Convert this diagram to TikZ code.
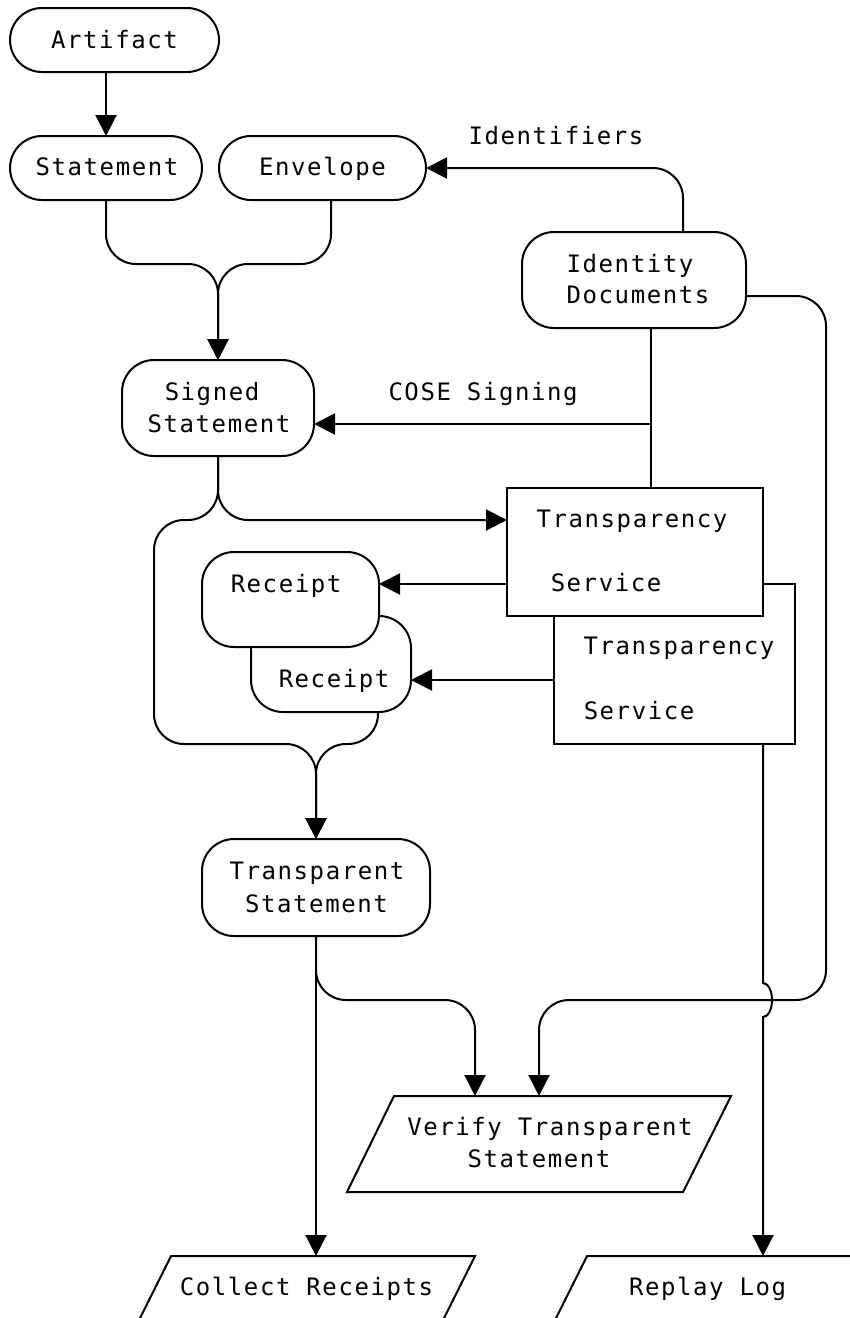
\documentclass[tikz,border=0pt]{standalone}
\usepackage{fontspec}
\newfontfamily\dmono{DejaVu Sans Mono}[LetterSpace=6.5]
\usetikzlibrary{arrows.meta,calc}
\begin{document}
\begin{tikzpicture}[x=1pt,y=-1pt,
  shp/.style={draw,line width=2pt,fill=white,inner sep=0pt,outer sep=0pt},
  rbox/.style={shp,rectangle,rounded corners=32pt},
  sbox/.style={shp,rectangle},
  pbox/.style={rectangle,inner sep=0pt,outer sep=0pt,minimum height=96pt},
  pline/.style={draw,line width=2pt,fill=white,line join=miter},
  txt/.style={inner sep=0pt,anchor=base,font=\dmono\fontsize{24}{28}\selectfont},
  con/.style={line width=2pt,rounded corners=30pt},
  arr/.style={con,-{Triangle[length=21pt,width=21pt]}}
]
\clip (0,0) rectangle (850,1318);
% shapes
\node[rbox,minimum width=209pt,minimum height=64pt] (Art) at (114.5,40) {};
\node[rbox,minimum width=192pt,minimum height=64pt] (Stm) at (106,168) {};
\node[rbox,minimum width=207pt,minimum height=64pt] (Env) at (322.5,168) {};
\node[rbox,minimum width=224pt,minimum height=96pt] (Id) at (634,280) {};
\node[rbox,minimum width=192pt,minimum height=96pt] (Sgn) at (218,408) {};
\node[sbox,minimum width=241pt,minimum height=160pt] (Ts2) at (674.5,664) {};
\node[sbox,minimum width=256pt,minimum height=128pt] (Ts1) at (635,552) {};
\node[rbox,minimum width=160pt,minimum height=96pt] (Rc2) at (331,664) {};
\node[rbox,minimum width=177pt,minimum height=95pt] (Rc1) at (290.5,599.5) {};
\node[rbox,minimum width=228pt,minimum height=97pt] (Tst) at (316,887.5) {};
\node[pbox,minimum width=384pt] (Ver) at (539,1144) {};
\node[pbox,minimum width=352pt] (Col) at (299,1304) {};
\node[pbox,minimum width=352pt] (Rep) at (715,1304) {};
\path[pline] ($(Ver.north west)+(47,0)$) -- (Ver.north east) -- ($(Ver.south east)+(-48,0)$) -- (Ver.south west) -- cycle;
\path[pline] ($(Col.north west)+(48,0)$) -- (Col.north east) -- ($(Col.south east)+(-48,0)$) -- (Col.south west) -- cycle;
\path[pline] ($(Rep.north west)+(48,0)$) -- (Rep.north east) -- ($(Rep.south east)+(-48,0)$) -- (Rep.south west) -- cycle;
% texts
\node[txt] (tArt) at (114.5,48) {Artifact};
\node[txt] (tStm) at (107,175) {Statement};
\node[txt] (tEnv) at (322.5,175) {Envelope};
\node[txt] (tId1) at (630,272) {Identity};
\node[txt] (tId2) at (638,303) {Documents};
\node[txt] (tSgn1) at (212,400) {Signed};
\node[txt] (tSgn2) at (219,432) {Statement};
\node[txt] (tTs1a) at (632,527) {Transparency};
\node[txt] (tTs1b) at (606,591) {Service};
\node[txt] (tTs2a) at (679,654) {Transparency};
\node[txt] (tTs2b) at (639,719) {Service};
\node[txt] (tRc1) at (286,592) {Receipt};
\node[txt] (tRc2) at (334,687) {Receipt};
\node[txt] (tTst1) at (317,879) {Transparent};
\node[txt] (tTst2) at (316.5,912) {Statement};
\node[txt] (tVer1) at (550,1135) {Verify Transparent};
\node[txt] (tVer2) at (539,1167) {Statement};
\node[txt] (tCol) at (306.5,1295) {Collect Receipts};
\node[txt] (tRep) at (707.5,1295) {Replay Log};
\node[txt] (lIdf) at (556,144) {Identifiers};
\node[txt] (lCose) at (483,400) {COSE Signing};
% coordinates
\coordinate (j1) at (218,264);
\coordinate (cose) at (651,424);
\coordinate (c1) at (154,520);
\coordinate (c2) at (154,744);
\coordinate (j2) at (316,744);
\coordinate (c3) at (475,1000);
\coordinate (c4) at (826,1000);
\coordinate (c5) at (539,1000);
\coordinate (t1r) at ($(Ts1.west)+(0,32)$);
\coordinate (t2r) at ($(Ts2.west)+(0,16)$);
\coordinate (rl) at ($(Ts2.south)+(88.5,0)$);
\coordinate (jt) at (763,983);
% connectors
\draw[arr] (Art.south -| Stm.north) -- (Stm.north);
\draw[arr] (Stm.south) |- (j1) -- (Sgn.north);
\draw[arr] ($(Env.south)+(8.5,0)$) |- (j1) -- (Sgn.north);
\draw[arr] ($(Id.north)+(49,0)$) |- (Env.east);
\draw[con] ($(Id.south)+(17,0)$) -- ($(Ts1.north)+(16,0)$);
\draw[arr] (cose) -- (cose -| Sgn.east);
\draw[arr] (Sgn.south) |- ($(Ts1.west)+(0,-32)$);
\draw[arr] (Sgn.south) |- (c1) -- (c2) -- (j2) -- (Tst.north);
\draw[arr] ($(Rc2.south)+(47,0)$) |- (j2) -- (Tst.north);
\draw[arr] (t1r) -- (t1r -| Rc1.east);
\draw[arr] (t2r) -- (t2r -| Rc2.east);
\draw[arr] (Tst.south) -- (Tst.south |- Col.north);
\draw[arr] (Tst.south) |- (c3) -- (c3 |- Ver.north);
\draw[arr] ($(Id.east)+(0,16)$) -| (c4) -- (c5) -- (c5 |- Ver.north);
\draw[arr,sharp corners] (rl) -- (jt) arc[start angle=-90,end angle=90,x radius=9,y radius=17] -- (rl |- Rep.north);
\end{tikzpicture}
\end{document}
